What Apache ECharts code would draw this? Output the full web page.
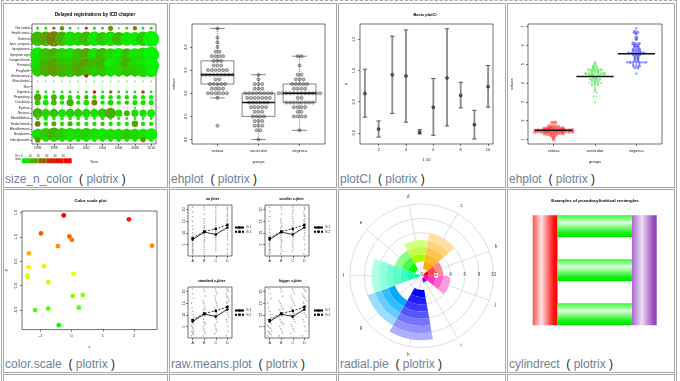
<!DOCTYPE html>
<html><head><meta charset="utf-8"><title>plotrix gallery</title>
<script src="https://cdn.jsdelivr.net/npm/echarts@6.0.0/dist/echarts.min.js"></script>
<style>
html,body{margin:0;padding:0;background:#fff;}
body{position:relative;width:680px;height:381px;overflow:hidden;font-family:"Liberation Sans",Arial,Helvetica,sans-serif;}
.cell{position:absolute;border:1px solid #a8a8a8;box-sizing:border-box;}
.outer{position:absolute;left:1px;top:0;width:676px;height:470px;border:1px solid #a8a8a8;border-top:1px dashed #a8a8a8;box-sizing:border-box;}
.cap{position:absolute;font-size:12px;line-height:12px;color:#6f8197;white-space:pre;}
.cap .p{color:#222;}
#chart{position:absolute;left:0;top:0;width:680px;height:381px;z-index:2;}
</style></head>
<body>
<div class="outer"></div>
<div id="cells"></div>
<div id="chart"></div>
<script>
// ================= DATA =================
// size_n_color
const icdChapters = ["Not coded","Health status","External","Spec. purpose","Injury/poison","Symptom sign","Congen/chrom","Perinatal","Preg/birth","Genitourinary","Musculoskel","Skin","Digestive","Respiratory","Circulatory","Eye/ear","Nervous","Mental/behav","Endoc/metab","Blood/immune","Neoplasms","Infect/parasite"];
const regYears = [1996,1997,1998,1999,2000,2001,2002,2003,2004,2005,2006,2007,2008,2009,2010];
const yearTicks = [1996,1998,2000,2002,2004,2006,2008,2010];
const delaySize = [
 [2,2,2,3,2,1.5,2,2,2,3.5,1.5,2,3,2,2],
 [1.5,1.5,1.5,1.5,1.5,1.5,1.5,1.5,1.5,1.5,1.5,1.5,1.5,1.5,1.5],
 [10,10,10.5,10,10,9.5,10,10,9.5,10,9.5,9.5,9.5,10,11],
 [1.5,1.5,1.5,1.5,1.5,1.5,1.5,1.5,1.5,1.5,1.5,1.5,1.5,1.5,1.5],
 [1,1,1,1,1,1,1,1,1,1,1,1,1,1.5,2],
 [10.5,9.5,9.5,9.5,9.5,9,9.5,9.5,9.5,9,9.5,9,9,10,11],
 [5,5,5,5,5,5,5,5,5,5,5,5,5,5,5],
 [10,10,10,10,10,10,10,10,10,10,10,10,10,10,11],
 [8,8,8,9,9,8,8,8,8,8,8,8,8,9,9],
 [1.5,1.5,1.5,1.5,1.5,1.5,2.5,1.5,1.5,1.5,1.5,1.5,1.5,1.5,1.5],
 [1,1,1,1,1,1,1,1,1,1,1,1,1,1,1],
 [0.5,0.5,0.5,0.5,0.5,0.5,0.5,0.5,0.5,0.5,0.5,0.5,0.5,0.5,0.5],
 [2.5,2,2,2,2,1.5,2,2.5,2,2.5,2,2,2,2.5,2],
 [5,3,4,3.5,3,3,3,3,3,3,3,3,3,3,3],
 [4,4,4,3,5,3,4,4,3,4,3,3,3.5,3.5,3.5],
 [0.8,0.8,0.8,0.8,0.8,0.8,0.8,0.8,0.8,0.8,0.8,0.8,1.5,0.8,0.8],
 [7,6,6,5.5,6,6,6,6,6.5,7.5,5,4,5,5,5.5],
 [2.5,3,2.5,2.5,2.5,2.5,2.5,2,2.5,2,2,2,2,2,2],
 [4,3,3.5,3,3.5,3,3,3,3,3,3,3,4.5,3,3],
 [1,1,1,1,1,1,1,1,1,1,1,1,1,1,1],
 [8,9,9.5,9,9,8.5,9,8.5,8.5,8,8,8,8,8,8.5],
 [4,3,3,3,3,3,3,3,3,3,3,3,3,3.5,3]
];
const delayPct = [
 [3,5,25,18,4,2,48,5,3,17,3,4,20,4,2],
 [5,5,5,5,5,5,5,5,5,5,5,5,5,5,5],
 [13,16,22,15,7,8,13,5,11,6,13,5,4,10,2],
 [5,5,5,5,5,5,5,5,5,5,5,5,5,5,5],
 [5,5,5,5,5,5,5,5,5,5,5,5,5,5,5],
 [4,12,14,10,6,12,16,6,13,8,3,12,5,6,2],
 [8,8,8,8,8,8,8,8,8,8,8,8,8,8,8],
 [6,14,17,12,10,14,18,13,15,3,6,14,8,5,2],
 [10,15,18,15,12,16,13,10,12,6,8,12,10,8,3],
 [4,4,4,4,4,4,48,4,4,4,4,4,4,4,4],
 [4,4,4,4,4,4,4,4,4,4,4,4,4,4,4],
 [4,4,4,4,4,4,4,4,4,4,4,4,4,4,4],
 [4,3,5,3,4,3,6,45,4,20,4,3,5,28,4],
 [16,4,15,6,5,5,14,5,5,5,5,6,5,5,3],
 [10,6,12,5,14,5,7,22,5,8,4,12,5,5,3],
 [4,4,4,4,4,4,4,4,4,4,4,4,4,4,4],
 [14,8,12,6,10,9,8,6,10,16,8,14,7,6,4],
 [4,4,4,4,4,4,4,4,4,4,4,4,4,4,4],
 [22,5,14,5,13,6,5,6,13,4,5,5,17,5,3],
 [4,4,4,4,4,4,4,4,4,4,4,4,4,4,4],
 [6,10,14,10,6,7,9,6,5,7,6,10,8,5,3],
 [18,6,6,6,5,5,5,6,5,5,5,5,5,20,3]
];
const pctLegendBins = [0,10,20,30,40,50,60];
const pctLegendTicks = [0,10,20,30,40,50];

// iris (ehplot)
const irisGroups = ["setosa","versicolor","virginica"];
const sepalWidthSetosa = [3.5,3.0,3.2,3.1,3.6,3.9,3.4,3.4,2.9,3.1,3.7,3.4,3.0,3.0,4.0,4.4,3.9,3.5,3.8,3.8,3.4,3.7,3.6,3.3,3.4,3.0,3.4,3.5,3.4,3.2,3.1,3.4,4.1,4.2,3.1,3.2,3.5,3.6,3.0,3.4,3.5,2.3,3.2,3.5,3.8,3.0,3.8,3.2,3.7,3.3];
const sepalWidthVersicolor = [3.2,3.2,3.1,2.3,2.8,2.8,3.3,2.4,2.9,2.7,2.0,3.0,2.2,2.9,2.9,3.1,3.0,2.7,2.2,2.5,3.2,2.8,2.5,2.8,2.9,3.0,2.8,3.0,2.9,2.6,2.4,2.4,2.7,2.7,3.0,3.4,3.1,2.3,3.0,2.5,2.6,3.0,2.6,2.3,2.7,3.0,2.9,2.9,2.5,2.8];
const sepalWidthVirginica = [3.3,2.7,3.0,2.9,3.0,3.0,2.5,2.9,2.5,3.6,3.2,2.7,3.0,2.5,2.8,3.2,3.0,3.8,2.6,2.2,3.2,2.8,2.8,2.7,3.3,3.2,2.8,3.0,2.8,3.0,2.8,3.8,2.8,2.8,2.6,3.0,3.4,3.1,3.0,3.1,3.1,3.1,2.7,3.2,3.3,3.0,2.5,3.0,3.4,3.0];
const sepalWidthBox = [[2.9,3.2,3.4,3.7,4.4],[2.0,2.5,2.8,3.0,3.4],[2.2,2.8,3.0,3.2,3.8]];
const petalLengthSetosa = [1.4,1.4,1.3,1.5,1.4,1.7,1.4,1.5,1.4,1.5,1.5,1.6,1.4,1.1,1.2,1.5,1.3,1.4,1.7,1.5,1.7,1.5,1.0,1.7,1.9,1.6,1.6,1.5,1.4,1.6,1.6,1.5,1.5,1.4,1.5,1.2,1.3,1.4,1.3,1.5,1.3,1.3,1.3,1.6,1.9,1.4,1.6,1.4,1.5,1.4];
const petalLengthVersicolor = [4.7,4.5,4.9,4.0,4.6,4.5,4.7,3.3,4.6,3.9,3.5,4.2,4.0,4.7,3.6,4.4,4.5,4.1,4.5,3.9,4.8,4.0,4.9,4.7,4.3,4.4,4.8,5.0,4.5,3.5,3.8,3.7,3.9,5.1,4.5,4.5,4.7,4.4,4.1,4.0,4.4,4.6,4.0,3.3,4.2,4.2,4.2,4.3,3.0,4.1];
const petalLengthVirginica = [6.0,5.1,5.9,5.6,5.8,6.6,4.5,6.3,5.8,6.1,5.1,5.3,5.5,5.0,5.1,5.3,5.5,6.7,6.9,5.0,5.7,4.9,6.7,4.9,5.7,6.0,4.8,4.9,5.6,5.8,6.1,6.4,5.6,5.1,5.6,6.1,5.6,5.5,4.8,5.4,5.6,5.1,5.1,5.9,5.7,5.2,5.0,5.2,5.4,5.1];
const petalLengthMedian = [1.5,4.35,5.55];

// plotCI
const ciX = [1,2,3,4,5,6,7,8,9,10];
const ciMid = [0.63,0.06,0.93,0.91,0.01,0.41,0.88,0.60,0.13,0.74];
const ciLow = [0.25,-0.07,0.31,0.17,-0.02,-0.04,0.11,0.40,-0.10,0.41];
const ciHigh = [1.02,0.19,1.55,1.65,0.05,0.87,1.67,0.81,0.36,1.08];

// color.scale
const csX = [-0.25,1.84,-0.98,-0.07,0.01,-0.44,2.58,-1.37,-1.38,-0.88,-1.43,-1.41,0.06,-0.75,0.04,0.36,-1.17,-0.75,0.23,-0.41];
const csY = [1.44,1.36,1.07,1.01,0.94,0.81,0.82,0.66,0.38,0.40,0.21,0.18,0.24,0.07,-0.21,-0.19,-0.50,-0.47,-0.45,-0.81];

// raw.means.plot
const factorLevels = ["A","B","C","D"];
const rawA = [1,1.5,2,2.5,3,3,4,4.5,5,5.5,6,7,7.5,8,9,10,11.5,13,15,17,19,21];
const rawB = [1,2,3,4,5,6,6.5,7,8,9,9.5,10,11,12,12.5,13,14,15,16,18,20,21];
const rawC = [2,3,4,5,6,7,8,8.5,9,10,10.5,11,12,13,14,15,16,17,18,19,20,21];
const rawD = [1,3,5,7,8,9,10,11,12,13,13.5,14,15,15.5,16,17,17.5,18,19,20,20.5,21];
const meansG1 = [7.1,10.3,9.3,12.3];
const meansG2 = [7.8,10.6,11.7,13.4];
const jitterTitles = ["no jitter","smaller x-jitter","standard x-jitter","bigger x-jitter"];
const jitterAmount = [0,0.1,0.2,0.35];

// radial.pie
const radialLabels = ["b","c","d","e","f","g","h","i","j"];
const radialExtents = [[0,1,2,3],[1,2,3,4,5,6],[2,3,4,5],[1,2,3,4],[0,1,2,3,4,5,6,7],[4,5,6,7,8],[2,3,4,5,6,7,8,9],[0,1],[0,1,2,3,4]];
const radialTicks = [0,2,4,6,8,10];

// cylindrect
const cylX0 = [1,3,3,3,9];
const cylX1 = [3,9,9,9,11];
const cylY0 = [0,4,2,0,0];
const cylY1 = [5,5,3,1,5];
const cylColor = ["red","green","green","green","purple"];
const cylGradient = ["x","y","y","y","x"];

// ================= LAYOUT (HTML table) =================
const colL=[3,169,338,507], colR=[167,336,505,674], rowT=[3,189,374], rowB=[187,372,470];
const captionNames=[["size_n_color","ehplot","plotCI","ehplot"],["color.scale","raw.means.plot","radial.pie","cylindrect"]];
const capTop=[172.8,357.8];
const cellsEl=document.getElementById('cells');
for(let r=0;r<3;r++)for(let c=0;c<4;c++){
  const d=document.createElement('div');d.className='cell';
  d.style.left=colL[c]+'px';d.style.top=rowT[r]+'px';
  d.style.width=(colR[c]-colL[c]+1)+'px';d.style.height=(rowB[r]-rowT[r]+1)+'px';
  cellsEl.appendChild(d);
  if(r<2){
    const t=document.createElement('div');t.className='cap';
    t.style.left=(colL[c]+2)+'px';t.style.top=capTop[r]+'px';
    t.innerHTML=captionNames[r][c]+'  <span class="p">(</span> plotrix <span class="p">)</span>';
    cellsEl.appendChild(t);
  }
}

// ================= HELPERS =================
const FONT='"Liberation Sans", Arial, Helvetica, sans-serif';
function merge(a,b){for(const k in b){if(b[k]&&typeof b[k]==='object'&&!Array.isArray(b[k])&&a[k]&&typeof a[k]==='object')merge(a[k],b[k]);else a[k]=b[k];}return a;}
function rAxis(gi,min,max,ticks,fmt,extra){
  const ax={type:'value',gridIndex:gi,min:min,max:max,
    axisLine:{show:false,onZero:false},splitLine:{show:false},
    axisTick:{show:true,length:2,customValues:ticks,lineStyle:{color:'#222',width:0.6}},
    axisLabel:{show:true,customValues:ticks,fontSize:4,color:'#222',margin:3,fontFamily:FONT,formatter:fmt||(v=>String(v))},
    nameLocation:'middle',nameTextStyle:{fontSize:4,color:'#222',fontFamily:FONT}};
  return merge(ax,extra||{});
}
function hiddenAxis(gi,min,max){return {type:'value',gridIndex:gi,min:min,max:max,show:false,axisLine:{onZero:false}};}
function rGrid(l,t,w,h,show){return {left:l,top:t,width:w,height:h,show:show!==false,borderColor:'#333',borderWidth:0.7,containLabel:false};}
const pctStops=[[0,[0,255,0]],[10,[40,205,0]],[20,[110,140,0]],[30,[185,55,0]],[50,[255,0,0]]];
function pctColor(p){
  for(let i=1;i<pctStops.length;i++){
    if(p<=pctStops[i][0]||i===pctStops.length-1){
      const p0=pctStops[i-1][0],c0=pctStops[i-1][1],p1=pctStops[i][0],c1=pctStops[i][1];
      const t=Math.max(0,Math.min(1,(p-p0)/(p1-p0)));
      return 'rgb('+c0.map((c,k)=>Math.round(c+(c1[k]-c)*t)).join(',')+')';
    }
  }
}
// color.scale(y, c(0,1,1), c(1,1,0), 0): green -> yellow -> red
const csMin=Math.min(...csY), csMax=Math.max(...csY);
function csColor(y){const t=(y-csMin)/(csMax-csMin);
  const r=t<0.5?Math.round(510*t):255, g=t<0.5?255:Math.round(255-510*(t-0.5));return 'rgb('+r+','+g+',0)';}
function shade(hex,f){const n=parseInt(hex.slice(1),16);const m=c=>Math.round(c+(255-c)*f);return 'rgb('+m(n>>16&255)+','+m(n>>8&255)+','+m(n&255)+')';}
function tieOffsets(vals,step){const cnt={},idx={};vals.forEach(v=>cnt[v]=(cnt[v]||0)+1);return vals.map(v=>{idx[v]=idx[v]||0;const i=idx[v]++;return (i-(cnt[v]-1)/2)*step;});}

// ================= OPTION =================
const grids=[rGrid(32,24,124,120),rGrid(21.7,158.3,50,5,false),rGrid(192,24,133,120),rGrid(360,24,133,120),rGrid(528,24,134,120),rGrid(22,211,135,118.6),
  rGrid(188,205,44,51),rGrid(265,205,44,51),rGrid(188,287,44,51),rGrid(265,287,44,51),rGrid(520.3,215.3,148.8,110,false)];
const chapterTicks=icdChapters.map((_,i)=>i+1);
const xAxes=[
  rAxis(0,1995.3,2010.6,yearTicks,v=>String(v),{axisLabel:{fontSize:3.3,margin:2.5},name:'Year',nameGap:15.7}),
  rAxis(1,0,60,pctLegendTicks,null,{position:'top',axisTick:{show:false},axisLabel:{fontSize:2.8,margin:0.8}}),
  rAxis(2,0.38,3.62,[1,2,3],v=>irisGroups[v-1],{axisLabel:{margin:5},name:'groups',nameGap:15.7}),
  rAxis(3,0.64,10.36,[2,4,6,8,10],null,{axisLabel:{margin:4},name:'1:10',nameGap:14}),
  rAxis(4,0.38,3.62,[1,2,3],v=>irisGroups[v-1],{axisLabel:{margin:5},name:'groups',nameGap:15.7}),
  rAxis(5,-1.59,2.74,[-1,0,1,2],null,{axisLabel:{margin:4},name:'x',nameGap:15}),
  rAxis(6,0.6,4.4,[1,2,3,4],v=>factorLevels[v-1],{axisLabel:{fontSize:3.6,margin:3}}),
  rAxis(7,0.6,4.4,[1,2,3,4],v=>factorLevels[v-1],{axisLabel:{fontSize:3.6,margin:3}}),
  rAxis(8,0.6,4.4,[1,2,3,4],v=>factorLevels[v-1],{axisLabel:{fontSize:3.6,margin:3}}),
  rAxis(9,0.6,4.4,[1,2,3,4],v=>factorLevels[v-1],{axisLabel:{fontSize:3.6,margin:3}}),
  hiddenAxis(10,0,12)
];
const yAxes=[
  rAxis(0,0.2,22.8,chapterTicks,v=>icdChapters[22-v],{axisLabel:{fontSize:3.1,margin:2.5},axisTick:{length:1.5}}),
  hiddenAxis(1,0,1),
  rAxis(2,1.904,4.496,[2,2.5,3,3.5,4],v=>v.toFixed(1),{axisLabel:{rotate:90,margin:4},name:'values',nameGap:15.7}),
  rAxis(3,-0.18,1.745,[0,0.5,1,1.5],v=>v.toFixed(1),{axisLabel:{rotate:90,margin:4},name:'y',nameGap:12}),
  rAxis(4,0.764,7.136,[1,2,3,4,5,6,7],null,{axisLabel:{rotate:90,margin:3},name:'values',nameGap:14}),
  rAxis(5,-0.9,1.53,[-0.5,0,0.5,1,1.5],v=>v.toFixed(1),{axisLabel:{rotate:90,margin:4},name:'y',nameGap:14}),
  rAxis(6,0.1,21.9,[5,10,15,20],null,{axisLabel:{rotate:90,fontSize:3.6,margin:2.5}}),
  rAxis(7,0.1,21.9,[5,10,15,20],null,{axisLabel:{rotate:90,fontSize:3.6,margin:2.5}}),
  rAxis(8,0.1,21.9,[5,10,15,20],null,{axisLabel:{rotate:90,fontSize:3.6,margin:2.5}}),
  rAxis(9,0.1,21.9,[5,10,15,20],null,{axisLabel:{rotate:90,fontSize:3.6,margin:2.5}}),
  hiddenAxis(10,0,5)
];

const series=[];
// --- size_n_color
const bubbleData=[];
delaySize.forEach((row,i)=>row.forEach((s,j)=>bubbleData.push([regYears[j],icdChapters.length-i,s,delayPct[i][j]])));
series.push({type:'scatter',xAxisIndex:0,yAxisIndex:0,data:bubbleData,symbolSize:v=>v[2]*1.45,
  itemStyle:{color:p=>pctColor(p.data[3]),opacity:1},silent:true});
const legendBins=pctLegendBins.slice(0,-1).map((b,i)=>[b,pctLegendBins[i+1]]);
series.push({type:'custom',xAxisIndex:1,yAxisIndex:1,data:legendBins,silent:true,
  renderItem:(p,api)=>{const a=api.coord([api.value(0),1]),b=api.coord([api.value(1),0]);
    return {type:'rect',shape:{x:a[0],y:a[1],width:b[0]-a[0],height:b[1]-a[1]},style:{fill:pctColor((api.value(0)+api.value(1))/2)}};}});
// --- ehplot (sepal width)
const sw=[sepalWidthSetosa,sepalWidthVersicolor,sepalWidthVirginica];
const ehDots=[];
sw.forEach((vals,g)=>{const off=tieOffsets(vals,0.092);vals.forEach((v,i)=>ehDots.push([g+1+off[i],v]));});
series.push({type:'scatter',xAxisIndex:2,yAxisIndex:2,data:ehDots,symbolSize:3.2,silent:true,
  itemStyle:{color:'#a8a8a8',borderColor:'#333',borderWidth:0.5},z:2});
series.push({type:'custom',xAxisIndex:2,yAxisIndex:2,silent:true,z:3,
  data:sepalWidthBox.map((s,i)=>[i+1].concat(s)),
  renderItem:(p,api)=>{
    const g=api.value(0),lo=api.value(1),q1=api.value(2),md=api.value(3),q3=api.value(4),hi=api.value(5);
    const L=api.coord([g-0.4,q3]),R=api.coord([g+0.4,q1]);
    const cL=api.coord([g-0.18,hi])[0],cR=api.coord([g+0.18,hi])[0];
    const xc=api.coord([g,md])[0],yHi=api.coord([g,hi])[1],yLo=api.coord([g,lo])[1],yMd=api.coord([g,md])[1];
    const ln=(x1,y1,x2,y2,st)=>({type:'line',shape:{x1:x1,y1:y1,x2:x2,y2:y2},style:st});
    const thin={stroke:'#333',lineWidth:0.6},dot={stroke:'#333',lineWidth:0.6,lineDash:[1.2,1.2]};
    return {type:'group',children:[
      {type:'rect',shape:{x:L[0],y:L[1],width:R[0]-L[0],height:R[1]-L[1]},style:{fill:'none',stroke:'#333',lineWidth:0.6}},
      ln(L[0],yMd,R[0],yMd,{stroke:'#111',lineWidth:1.6}),
      ln(xc,L[1],xc,yHi,dot),ln(xc,R[1],xc,yLo,dot),
      ln(cL,yHi,cR,yHi,thin),ln(cL,yLo,cR,yLo,thin)]};
  }});
// --- plotCI
series.push({type:'custom',xAxisIndex:3,yAxisIndex:3,silent:true,
  data:ciX.map((x,i)=>[x,ciMid[i],ciLow[i],ciHigh[i]]),
  renderItem:(p,api)=>{
    const x=api.value(0);const pm=api.coord([x,api.value(1)]),pl=api.coord([x,api.value(2)]),ph=api.coord([x,api.value(3)]);
    const cap=2.2;
    return {type:'group',children:[
      {type:'line',shape:{x1:pl[0],y1:pl[1],x2:ph[0],y2:ph[1]},style:{stroke:'#8c8c8c',lineWidth:1.8}},
      {type:'line',shape:{x1:ph[0]-cap,y1:ph[1],x2:ph[0]+cap,y2:ph[1]},style:{stroke:'#333',lineWidth:0.8}},
      {type:'line',shape:{x1:pl[0]-cap,y1:pl[1],x2:pl[0]+cap,y2:pl[1]},style:{stroke:'#333',lineWidth:0.8}},
      {type:'circle',shape:{cx:pm[0],cy:pm[1],r:1.5},style:{fill:'#555',stroke:'#222',lineWidth:0.6}}]};
  }});
// --- ehplot (petal length, coloured)
const pl=[petalLengthSetosa,petalLengthVersicolor,petalLengthVirginica];
const plColors=['rgba(255,0,0,0.6)','rgba(0,225,0,0.6)','rgba(0,0,255,0.6)'];
pl.forEach((vals,g)=>{
  const off=tieOffsets(vals,0.075);
  series.push({type:'scatter',xAxisIndex:4,yAxisIndex:4,silent:true,
    data:vals.map((v,i)=>[g+1+off[i],v,sw[g][i]]),
    symbolSize:v=>1.2+(v[2]-2)*1.7,itemStyle:{color:plColors[g]}});
});
series.push({type:'custom',xAxisIndex:4,yAxisIndex:4,silent:true,z:4,
  data:petalLengthMedian.map((m,i)=>[i+1,m]),
  renderItem:(p,api)=>{const g=api.value(0),m=api.value(1);const a=api.coord([g-0.45,m]),b=api.coord([g+0.45,m]);
    return {type:'line',shape:{x1:a[0],y1:a[1],x2:b[0],y2:b[1]},style:{stroke:'#111',lineWidth:1.5}};}});
// --- color.scale
series.push({type:'scatter',xAxisIndex:5,yAxisIndex:5,silent:true,data:csX.map((x,i)=>[x,csY[i]]),symbolSize:4.8,
  itemStyle:{color:p=>csColor(p.data[1]),opacity:1}});
// --- raw.means.plot
const raws=[rawA,rawB,rawC,rawD];
jitterAmount.forEach((amt,s)=>{
  const pts=[];
  raws.forEach((vals,c)=>vals.forEach((v,i)=>pts.push([c+1+((((i*7)%9)/8)-0.5)*amt,v])));
  series.push({type:'scatter',xAxisIndex:6+s,yAxisIndex:6+s,silent:true,data:pts,symbolSize:1.6,itemStyle:{color:'#9a9a9a'}});
  series.push({type:'line',name:'G 1',xAxisIndex:6+s,yAxisIndex:6+s,silent:true,data:meansG1.map((m,i)=>[i+1,m]),
    symbol:'circle',symbolSize:2.6,lineStyle:{color:'#000',width:0.8},itemStyle:{color:'#000'}});
  series.push({type:'line',name:'G 2',xAxisIndex:6+s,yAxisIndex:6+s,silent:true,data:meansG2.map((m,i)=>[i+1,m]),
    symbol:'rect',symbolSize:2.4,lineStyle:{color:'#000',width:0.8,type:[2,1.5]},itemStyle:{color:'#000'}});
});
// --- radial.pie
const sectorColors=["#FF0000","#FFAA00","#AAFF00","#00FF00","#00FFAA","#00AAFF","#0000FF","#AA00FF","#FF00AA"];
series.push({type:'bar',coordinateSystem:'polar',polarIndex:0,stack:'rp',barCategoryGap:'0%',silent:true,
  data:radialExtents.map(e=>e[0]),itemStyle:{color:'rgba(0,0,0,0)'}});
const maxBands=Math.max(...radialExtents.map(e=>e.length-1));
for(let j=0;j<maxBands;j++){
  series.push({type:'bar',coordinateSystem:'polar',polarIndex:0,stack:'rp',barCategoryGap:'0%',silent:true,
    data:radialExtents.map((e,i)=>{const n=e.length-1;
      return j<n?{value:e[j+1]-e[j],itemStyle:{color:shade(sectorColors[i],0.8*j/n)}}:{value:0,itemStyle:{opacity:0}};})});
}
// --- cylindrect
const cylStops={
  red:[{offset:0,color:'#ff5050'},{offset:0.35,color:'#ffe2e2'},{offset:0.85,color:'#ff1010'},{offset:1,color:'#ff0000'}],
  green:[{offset:0,color:'#30ff30'},{offset:0.33,color:'#dcffdc'},{offset:0.85,color:'#00f000'},{offset:1,color:'#00e000'}],
  purple:[{offset:0,color:'#a868cc'},{offset:0.4,color:'#eedcf6'},{offset:0.85,color:'#9a50c0'},{offset:1,color:'#8a40b0'}]
};
series.push({type:'custom',xAxisIndex:10,yAxisIndex:10,silent:true,
  data:cylX0.map((x0,i)=>[x0,cylY0[i],cylX1[i],cylY1[i],i]),
  renderItem:(p,api)=>{
    const a=api.coord([api.value(0),api.value(3)]),b=api.coord([api.value(2),api.value(1)]);const i=api.value(4);
    const h=cylGradient[i]==='x';
    return {type:'rect',shape:{x:a[0],y:a[1],width:b[0]-a[0],height:b[1]-a[1]},
      style:{fill:new echarts.graphic.LinearGradient(0,0,h?1:0,h?0:1,cylStops[cylColor[i]])}};
  }});

function title(x,y,text,size){return {type:'text',x:x,y:y,z:10,style:{text:text,fontSize:size||4.4,fontWeight:'bold',fontFamily:FONT,fill:'#000',align:'center',verticalAlign:'middle',textAlign:'center',textVerticalAlign:'middle'}};}
const graphics=[
  title(95,15,'Delayed registrations by ICD chapter',4.6),
  {type:'text',x:18,y:157.5,z:10,style:{text:'Pct.\nslow',fontSize:2.8,fontFamily:FONT,fill:'#222',align:'center',verticalAlign:'middle',textAlign:'center',textVerticalAlign:'middle',lineHeight:3.2}},
  title(425,15,'Basic plotCI',4),
  title(90.5,201,'Color scale plot',4.3),
  title(212.5,199,jitterTitles[0],3.6),title(291.5,199,jitterTitles[1],3.6),
  title(211.5,281,jitterTitles[2],3.6),title(290.5,281,jitterTitles[3],3.6),
  title(595,201,'Examples of pseudocylindrical rectangles',4.4)
];
const legendPos=[[234,226],[313,226],[234,309],[313,309]];
const legends=legendPos.map(p=>({left:p[0],top:p[1],orient:'vertical',itemWidth:9,itemHeight:3,itemGap:1.2,padding:0,
  selectedMode:false,data:['G 1','G 2'],textStyle:{fontSize:3.4,color:'#222',fontFamily:FONT,padding:[0,0,0,-3]}}));

const option={
  animation:false,backgroundColor:'transparent',
  textStyle:{fontFamily:FONT},
  grid:grids,xAxis:xAxes,yAxis:yAxes,
  polar:[{center:[421.7,275.7],radius:71.7},{center:[421.7,275.7],radius:71.7}],
  angleAxis:[
    {polarIndex:0,type:'category',data:radialLabels,startAngle:0,clockwise:false,boundaryGap:true,
      axisLine:{show:false},axisTick:{show:false},splitLine:{show:false},axisLabel:{fontSize:4.5,color:'#333',margin:6,fontFamily:FONT}},
    {polarIndex:1,type:'value',min:0,max:360,interval:40,startAngle:20,clockwise:false,
      axisLine:{show:false},axisTick:{show:false},axisLabel:{show:false},splitLine:{show:true,lineStyle:{color:'#d6d6d6',width:0.8}}}
  ],
  radiusAxis:[
    {polarIndex:0,type:'value',min:0,max:10,z:5,axisLine:{show:false},axisTick:{show:false},splitLine:{show:false},
      axisLabel:{customValues:radialTicks,fontSize:4.5,color:'#333',margin:-2,backgroundColor:'#fff',padding:[0,0.5],fontFamily:FONT}},
    {polarIndex:1,type:'value',min:0,max:10,interval:2,axisLine:{show:false},axisTick:{show:false},axisLabel:{show:false},
      splitLine:{show:true,lineStyle:{color:'#d6d6d6',width:0.8}}}
  ],
  legend:legends,
  graphic:graphics,
  series:series
};
const chart=echarts.init(document.getElementById('chart'),null,{renderer:'canvas'});
chart.setOption(option);
</script>
</body></html>
